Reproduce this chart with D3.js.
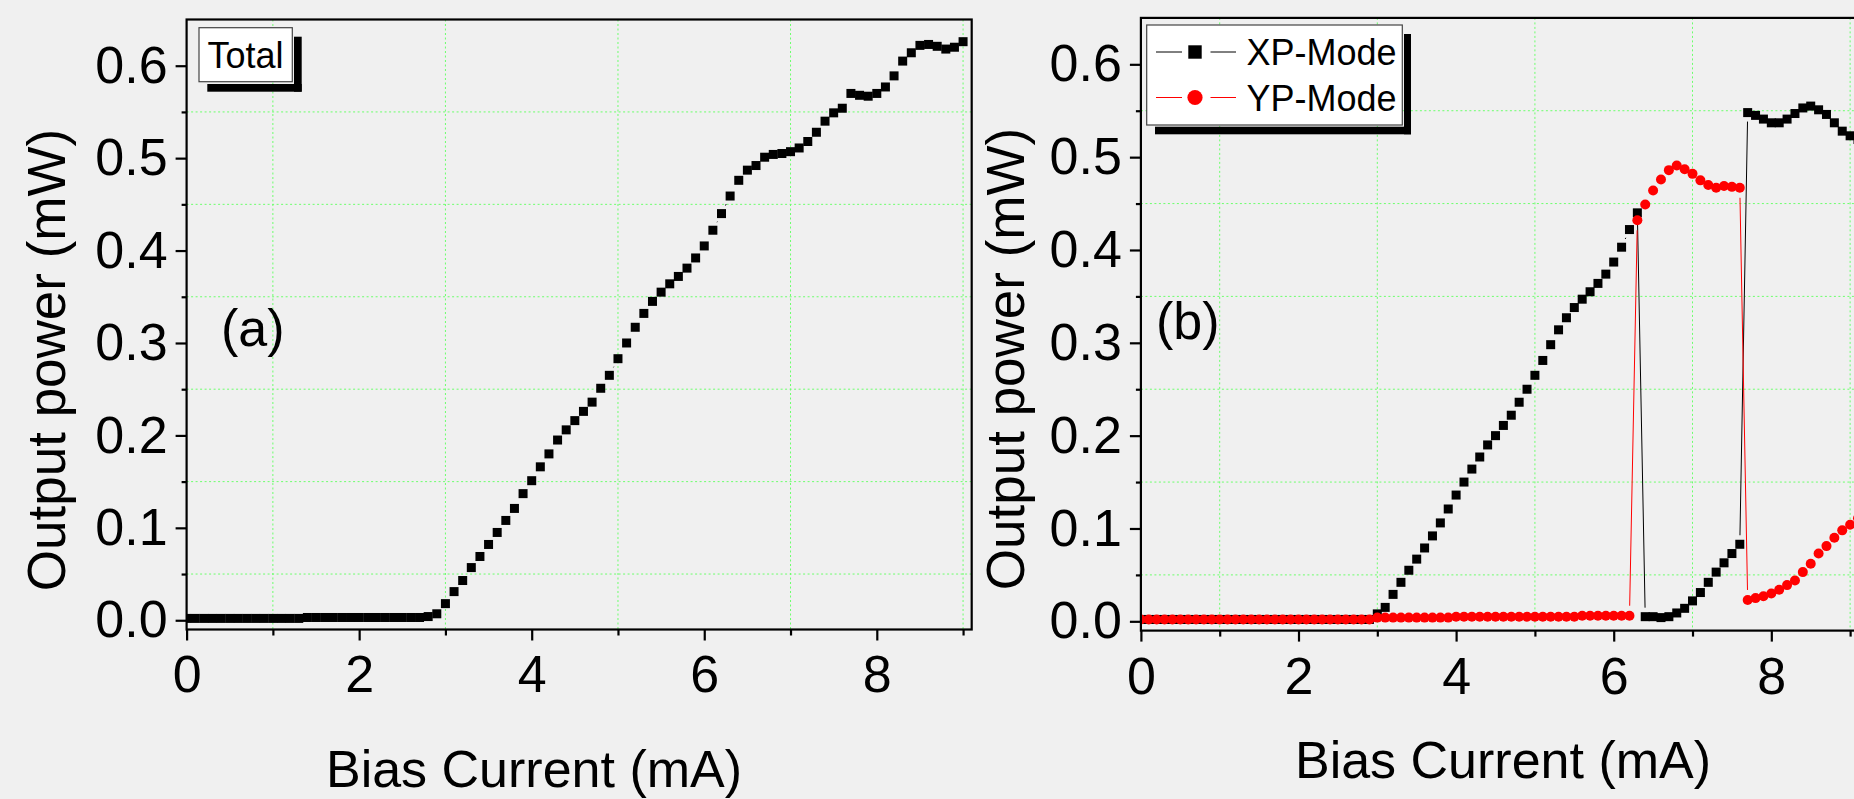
<!DOCTYPE html>
<html>
<head>
<meta charset="utf-8">
<script src="https://cdnjs.cloudflare.com/ajax/libs/d3/7.8.5/d3.min.js"></script>
<style>
  html, body { margin: 0; padding: 0; background: #f0f0f0; }
  svg { display: block; }
</style>
</head>
<body>
<div id="chart"></div>
<script>
// bias current is sampled every 0.1 mA starting at 0 mA
var biasStep = 0.1;

// (a) total output power, 0.0 .. 9.0 mA
var totalPower = [
  0.002, 0.002, 0.002, 0.002, 0.002, 0.002, 0.002, 0.002, 0.002, 0.002,
  0.002, 0.002, 0.002, 0.002, 0.003, 0.003, 0.003, 0.003, 0.003, 0.003,
  0.003, 0.003, 0.003, 0.003, 0.003, 0.003, 0.003, 0.003, 0.004, 0.007,
  0.018, 0.031, 0.043, 0.057, 0.069, 0.082, 0.095, 0.108, 0.121, 0.137,
  0.151, 0.166, 0.180, 0.195, 0.206, 0.216, 0.226, 0.236, 0.251, 0.265,
  0.283, 0.300, 0.317, 0.332, 0.345, 0.355, 0.364, 0.372, 0.381, 0.392,
  0.405, 0.422, 0.440, 0.459, 0.476, 0.487, 0.492, 0.501, 0.504, 0.505,
  0.507, 0.511, 0.518, 0.528, 0.540, 0.549, 0.554, 0.570, 0.568, 0.567,
  0.570, 0.577, 0.589, 0.605, 0.614, 0.622, 0.623, 0.621, 0.618, 0.620,
  0.626
];

// (b) XP-Mode, 0.0 .. 9.1 mA
var xpPower = [
  0.002, 0.002, 0.002, 0.002, 0.002, 0.002, 0.002, 0.002, 0.002, 0.002,
  0.002, 0.002, 0.002, 0.002, 0.002, 0.002, 0.002, 0.002, 0.002, 0.002,
  0.002, 0.002, 0.002, 0.002, 0.002, 0.002, 0.002, 0.002, 0.002, 0.002,
  0.008, 0.015, 0.029, 0.042, 0.055, 0.067, 0.079, 0.092, 0.106, 0.121,
  0.136, 0.150, 0.164, 0.177, 0.190, 0.200, 0.211, 0.222, 0.236, 0.250,
  0.265, 0.281, 0.298, 0.314, 0.327, 0.338, 0.347, 0.355, 0.364, 0.374,
  0.387, 0.403, 0.422, 0.440, 0.005, 0.005, 0.004, 0.005, 0.009, 0.014,
  0.022, 0.031, 0.042, 0.053, 0.063, 0.073, 0.083, 0.548, 0.545, 0.541,
  0.537, 0.537, 0.541, 0.547, 0.553, 0.555, 0.551, 0.546, 0.537, 0.528,
  0.523, 0.519
];

// (b) YP-Mode, 0.0 .. 9.1 mA
var ypPower = [
  0.002, 0.002, 0.002, 0.002, 0.002, 0.002, 0.002, 0.002, 0.002, 0.002,
  0.002, 0.002, 0.002, 0.002, 0.002, 0.002, 0.002, 0.002, 0.002, 0.002,
  0.002, 0.002, 0.002, 0.002, 0.002, 0.002, 0.002, 0.002, 0.002, 0.002,
  0.004, 0.004, 0.004, 0.004, 0.004, 0.004, 0.004, 0.004, 0.004, 0.004,
  0.005, 0.005, 0.005, 0.005, 0.005, 0.005, 0.005, 0.005, 0.005, 0.005,
  0.005, 0.005, 0.005, 0.005, 0.005, 0.005, 0.006, 0.006, 0.006, 0.006,
  0.006, 0.006, 0.006, 0.432, 0.449, 0.464, 0.476, 0.486, 0.491, 0.487,
  0.482, 0.475, 0.470, 0.467, 0.469, 0.468, 0.467, 0.023, 0.025, 0.027,
  0.030, 0.034, 0.039, 0.044, 0.053, 0.062, 0.073, 0.081, 0.090, 0.098,
  0.104, 0.111
];

var yMajorTicks = [0, 0.1, 0.2, 0.3, 0.4, 0.5, 0.6];
var yMinorTicks = [0.05, 0.15, 0.25, 0.35, 0.45, 0.55];
var xMajorTicks = [0, 2, 4, 6, 8];
var xMinorTicks = [1, 3, 5, 7, 9];

var fontFamily = "'Liberation Sans', Arial, sans-serif";
var gridColor = "#6cff6c";
var axisWidth = 2.2;

var svg = d3.select("#chart")
  .append("svg")
    .attr("width", 1854)
    .attr("height", 799)
    .style("font-family", fontFamily);

function toPoints(values) {
  return values.map(function(v, i) { return {x: Math.round(i * biasStep * 10) / 10, y: v}; });
}

// connecting line with a small gap at every symbol, like the original plot
function drawGappedLine(g, pts, x, y, color, gap) {
  for (var i = 1; i < pts.length; i++) {
    var x1 = x(pts[i - 1].x), y1 = y(pts[i - 1].y),
        x2 = x(pts[i].x), y2 = y(pts[i].y);
    var len = Math.sqrt((x2 - x1) * (x2 - x1) + (y2 - y1) * (y2 - y1));
    if (len <= 2 * gap) continue;
    var ux = (x2 - x1) / len, uy = (y2 - y1) / len;
    g.append("line")
      .attr("x1", x1 + ux * gap).attr("y1", y1 + uy * gap)
      .attr("x2", x2 - ux * gap).attr("y2", y2 - uy * gap)
      .attr("stroke", color)
      .attr("stroke-width", 1);
  }
}

function drawPanel(p) {
  var x = d3.scaleLinear().domain([0, 9.1]).range([p.left, p.right]);
  var y = d3.scaleLinear().domain([-0.01, 0.65]).range([p.bottom, p.top]);

  var panel = svg.append("g");

  panel.append("clipPath")
      .attr("id", "clip-" + p.id)
    .append("rect")
      .attr("x", p.left)
      .attr("y", p.top)
      .attr("width", p.right - p.left)
      .attr("height", p.bottom - p.top);

  // dotted green grid on the minor ticks
  var grid = panel.append("g").attr("clip-path", "url(#clip-" + p.id + ")");
  grid.selectAll("hgrid")
    .data(yMinorTicks)
    .enter()
    .append("line")
      .attr("x1", p.left).attr("x2", p.right)
      .attr("y1", function(d) { return y(d); })
      .attr("y2", function(d) { return y(d); })
      .attr("stroke", gridColor)
      .attr("stroke-width", 1)
      .attr("stroke-dasharray", "2,2.5");
  grid.selectAll("vgrid")
    .data(xMinorTicks)
    .enter()
    .append("line")
      .attr("y1", p.top).attr("y2", p.bottom)
      .attr("x1", function(d) { return x(d); })
      .attr("x2", function(d) { return x(d); })
      .attr("stroke", gridColor)
      .attr("stroke-width", 1)
      .attr("stroke-dasharray", "2,2.5");

  // data
  var plot = panel.append("g").attr("clip-path", "url(#clip-" + p.id + ")");
  p.series.forEach(function(s) {
    var pts = toPoints(s.values);
    drawGappedLine(plot, pts, x, y, s.color, s.gap);
    if (s.symbol === "square") {
      plot.selectAll("sym")
        .data(pts)
        .enter()
        .append("rect")
          .attr("x", function(d) { return x(d.x) - 4.5; })
          .attr("y", function(d) { return y(d.y) - 4.5; })
          .attr("width", 9)
          .attr("height", 9)
          .attr("fill", s.color);
    } else {
      plot.selectAll("sym")
        .data(pts)
        .enter()
        .append("circle")
          .attr("cx", function(d) { return x(d.x); })
          .attr("cy", function(d) { return y(d.y); })
          .attr("r", 5)
          .attr("fill", s.color);
    }
  });

  // axes
  var yAxis = panel.append("g")
      .attr("transform", "translate(" + p.left + ",0)")
      .call(d3.axisLeft(y).tickValues(yMajorTicks).tickSize(11).tickPadding(8)
        .tickFormat(d3.format(".1f")));
  var yMinor = panel.append("g")
      .attr("transform", "translate(" + p.left + ",0)")
      .call(d3.axisLeft(y).tickValues(yMinorTicks).tickSize(5).tickFormat(""));
  var xAxis = panel.append("g")
      .attr("transform", "translate(0," + p.bottom + ")")
      .call(d3.axisBottom(x).tickValues(xMajorTicks).tickSize(11).tickPadding(15)
        .tickFormat(d3.format("d")));
  var xMinor = panel.append("g")
      .attr("transform", "translate(0," + p.bottom + ")")
      .call(d3.axisBottom(x).tickValues(xMinorTicks).tickSize(6).tickFormat(""));

  [yAxis, yMinor, xAxis, xMinor].forEach(function(a) {
    a.select(".domain").remove();
    a.selectAll("line").attr("stroke", "#000").attr("stroke-width", axisWidth);
    a.selectAll("text")
      .attr("fill", "#000")
      .style("font-family", fontFamily)
      .style("font-size", "52px");
  });

  panel.append("rect")
      .attr("x", p.left)
      .attr("y", p.top)
      .attr("width", p.right - p.left)
      .attr("height", p.bottom - p.top)
      .attr("fill", "none")
      .attr("stroke", "#000")
      .attr("stroke-width", axisWidth);

  // axis titles
  panel.append("text")
      .attr("transform", "translate(" + p.yTitleX + "," + p.yTitleY + ")rotate(-90)")
      .attr("text-anchor", "middle")
      .style("font-size", "53px")
      .text("Output power (mW)");

  panel.append("text")
      .attr("x", p.xTitleX)
      .attr("y", p.xTitleY)
      .attr("text-anchor", "middle")
      .style("font-size", "52px")
      .text("Bias Current (mA)");

  panel.append("text")
      .attr("x", p.tagX)
      .attr("y", p.tagY)
      .style("font-size", "52px")
      .text(p.tag);

  return panel;
}

var panelA = drawPanel({
  id: "a", left: 186.6, right: 971.7, top: 19.5, bottom: 629.5,
  yTitleX: 65, yTitleY: 360, xTitleX: 534, xTitleY: 787,
  tag: "(a)", tagX: 221, tagY: 346,
  series: [{values: totalPower, color: "#000", symbol: "square", gap: 9}]
});

var panelB = drawPanel({
  id: "b", left: 1140.9, right: 1858, top: 17.9, bottom: 630.6,
  yTitleX: 1024, yTitleY: 359, xTitleX: 1503, xTitleY: 778,
  tag: "(b)", tagX: 1156, tagY: 339,
  series: [
    {values: xpPower, color: "#000", symbol: "square", gap: 9},
    {values: ypPower, color: "#ff0000", symbol: "circle", gap: 10}
  ]
});

// legend of panel (a): Origin style box with a drop shadow
panelA.append("rect").attr("x", 294).attr("y", 36.7).attr("width", 7.7).attr("height", 55).attr("fill", "#000");
panelA.append("rect").attr("x", 207.3).attr("y", 84).attr("width", 94.4).attr("height", 7.7).attr("fill", "#000");
panelA.append("rect")
    .attr("x", 199).attr("y", 27.7)
    .attr("width", 93.3).attr("height", 54)
    .attr("fill", "#fff")
    .attr("stroke", "#444")
    .attr("stroke-width", 1.2);
panelA.append("text")
    .attr("x", 207.5).attr("y", 68.3)
    .style("font-size", "36px")
    .text("Total");

// legend of panel (b)
var legendItems = [
  {label: "XP-Mode", color: "#000", symbol: "square"},
  {label: "YP-Mode", color: "#ff0000", symbol: "circle"}
];
panelB.append("rect").attr("x", 1404).attr("y", 34).attr("width", 7).attr("height", 100.3).attr("fill", "#000");
panelB.append("rect").attr("x", 1155).attr("y", 126.7).attr("width", 256).attr("height", 7.6).attr("fill", "#000");
panelB.append("rect")
    .attr("x", 1146.7).attr("y", 25)
    .attr("width", 255.6).attr("height", 100)
    .attr("fill", "#fff")
    .attr("stroke", "#444")
    .attr("stroke-width", 1.2);

var legendRow = panelB.selectAll("legendrow")
  .data(legendItems)
  .enter()
  .append("g")
    .attr("transform", function(d, i) { return "translate(0," + (52 + i * 45.5) + ")"; });

legendRow.append("line")
    .attr("x1", 1156).attr("x2", 1182).attr("y1", 0).attr("y2", 0)
    .attr("stroke", function(d) { return d.color; }).attr("stroke-width", 1);
legendRow.append("line")
    .attr("x1", 1210.5).attr("x2", 1236).attr("y1", 0).attr("y2", 0)
    .attr("stroke", function(d) { return d.color; }).attr("stroke-width", 1);
legendRow.filter(function(d) { return d.symbol === "square"; })
  .append("rect")
    .attr("x", 1188.3).attr("y", -6.7).attr("width", 13.4).attr("height", 13.4)
    .attr("fill", function(d) { return d.color; });
legendRow.filter(function(d) { return d.symbol === "circle"; })
  .append("circle")
    .attr("cx", 1195).attr("cy", 0).attr("r", 7.6)
    .attr("fill", function(d) { return d.color; });
legendRow.append("text")
    .attr("x", 1246.5).attr("y", 13.3)
    .style("font-size", "36px")
    .text(function(d) { return d.label; });
</script>
</body>
</html>
